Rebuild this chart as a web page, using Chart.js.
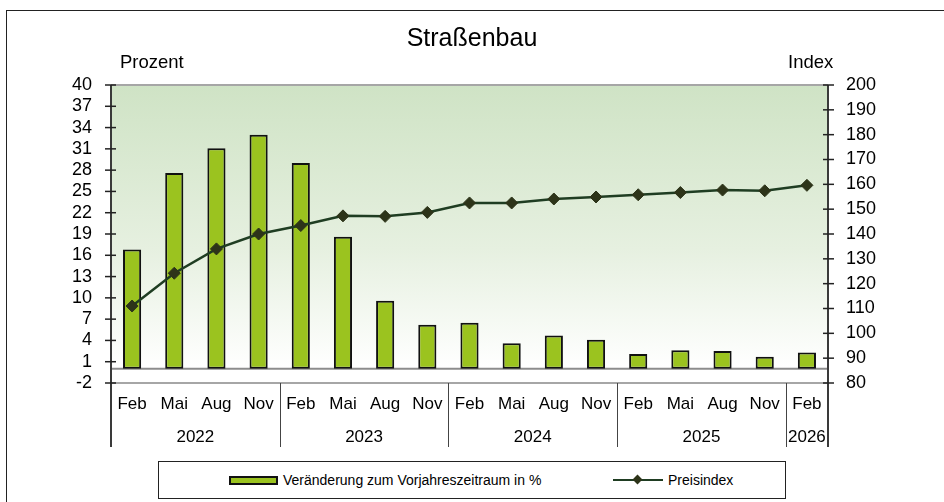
<!DOCTYPE html>
<html lang="de">
<head>
  <meta charset="UTF-8" />
  <title>Straßenbau</title>
  <script src="https://cdn.jsdelivr.net/npm/chart.js"></script>
  <style>
    body {
      margin: 0;
      padding: 0;
      background: #fff;
      font-family: 'Liberation Sans', Arial, sans-serif;
      color: #000;
      overflow: hidden;
    }
    .rahmen {
      position: absolute;
      left: 6px;
      top: 10px;
      width: 1000px;
      height: 600px;
      border: 1.5px solid #222;
    }
    #grafik {
      position: absolute;
      left: 0;
      top: 0;
    }
    .titel {
      position: absolute;
      left: 0;
      width: 944px;
      top: 23px;
      text-align: center;
      font-size: 25px;
    }
    .achse {
      position: absolute;
      top: 51px;
      font-size: 18.5px;
    }
    .legende {
      position: absolute;
      left: 158px;
      top: 461px;
      width: 626px;
      height: 36px;
      border: 1px solid #222;
      background: #fff;
      font-size: 14px;
    }
    .legende span { position: absolute; top: 10px; white-space: nowrap; }
    .swatch-bar {
      position: absolute;
      left: 70px;
      top: 14px;
      width: 45px;
      height: 5px;
      background: #9bc31f;
      border: 2px solid #111;
    }
    .swatch-linie {
      position: absolute;
      left: 454px;
      top: 17px;
      width: 50px;
      height: 2px;
      background: #1f3d22;
    }
    .swatch-linie::after {
      content: '';
      position: absolute;
      left: 21px;
      top: -3px;
      width: 7px;
      height: 7px;
      background: #2d3419;
      transform: rotate(45deg);
    }
  </style>
</head>
<body>
  <div class="rahmen"></div>
  <canvas id="grafik" width="944" height="502"></canvas>
  <div class="titel">Straßenbau</div>
  <div class="achse" style="left:120px">Prozent</div>
  <div class="achse" style="left:788px">Index</div>
  <div class="legende">
    <div class="swatch-bar"></div>
    <span style="left:124px">Veränderung zum Vorjahreszeitraum in %</span>
    <div class="swatch-linie"></div>
    <span style="left:509px">Preisindex</span>
  </div>

  <script>
    const monate = ["Feb", "Mai", "Aug", "Nov", "Feb", "Mai", "Aug", "Nov", "Feb", "Mai", "Aug", "Nov", "Feb", "Mai", "Aug", "Nov", "Feb"];
    const jahre = ["2022", "2022", "2022", "2022", "2023", "2023", "2023", "2023", "2024", "2024", "2024", "2024", "2025", "2025", "2025", "2025", "2026"];
    const veraenderung = [16.8, 27.6, 31.1, 33.0, 29.0, 18.6, 9.6, 6.2, 6.5, 3.6, 4.7, 4.1, 2.1, 2.6, 2.5, 1.7, 2.3];
    const preisindex = [111.0, 124.2, 134.0, 140.0, 143.4, 147.3, 147.1, 148.7, 152.5, 152.5, 154.1, 154.9, 155.8, 156.7, 157.7, 157.4, 159.6];

    const unterkante = 447;

    const hintergrund = {
      id: 'hintergrund',
      beforeDatasetsDraw(chart) {
        const { ctx, chartArea: a, scales } = chart;
        ctx.save();
        const g = ctx.createLinearGradient(0, a.top, 0, a.bottom);
        g.addColorStop(0, '#cfe3c5');
        g.addColorStop(0.55, '#e6f0e0');
        g.addColorStop(0.95, '#ffffff');
        ctx.fillStyle = g;
        ctx.fillRect(a.left, a.top, a.right - a.left, a.bottom - a.top);
        // obere Kante
        ctx.strokeStyle = '#a6a6a6';
        ctx.lineWidth = 2;
        ctx.beginPath();
        ctx.moveTo(a.left, a.top);
        ctx.lineTo(a.right, a.top);
        ctx.stroke();
        // Nulllinie
        const y0 = scales.y.getPixelForValue(0);
        ctx.strokeStyle = '#8c8c8c';
        ctx.beginPath();
        ctx.moveTo(a.left, y0);
        ctx.lineTo(a.right, y0);
        ctx.stroke();
        ctx.restore();
      },
      afterDraw(chart) {
        const { ctx, chartArea: a, scales } = chart;
        ctx.save();
        // untere Achse
        ctx.strokeStyle = '#a6a6a6';
        ctx.lineWidth = 2;
        ctx.beginPath();
        ctx.moveTo(a.left, a.bottom);
        ctx.lineTo(a.right, a.bottom);
        ctx.stroke();
        // senkrechte Achsen
        ctx.strokeStyle = '#3a3a3a';
        ctx.lineWidth = 2;
        [a.left, a.right].forEach(x => {
          ctx.beginPath();
          ctx.moveTo(x, a.top);
          ctx.lineTo(x, unterkante);
          ctx.stroke();
        });
        // Teilstriche
        ctx.lineWidth = 1.5;
        ctx.strokeStyle = '#222';
        scales.y.ticks.forEach(t => {
          const y = scales.y.getPixelForValue(t.value);
          ctx.beginPath();
          ctx.moveTo(a.left - 6, y);
          ctx.lineTo(a.left + 5, y);
          ctx.stroke();
        });
        scales.y2.ticks.forEach(t => {
          const y = scales.y2.getPixelForValue(t.value);
          ctx.beginPath();
          ctx.moveTo(a.right - 5, y);
          ctx.lineTo(a.right + 6, y);
          ctx.stroke();
        });
        // Jahresgruppen
        const x = scales.x;
        const halb = (x.getPixelForValue(1) - x.getPixelForValue(0)) / 2;
        ctx.strokeStyle = '#444';
        ctx.lineWidth = 1;
        ctx.fillStyle = '#000';
        ctx.font = '17px "Liberation Sans", Arial, sans-serif';
        ctx.textAlign = 'center';
        ctx.textBaseline = 'middle';
        let start = 0;
        for (let i = 1; i <= jahre.length; i++) {
          if (i === jahre.length || jahre[i] !== jahre[start]) {
            const links = x.getPixelForValue(start) - halb;
            const rechts = x.getPixelForValue(i - 1) + halb;
            if (i < jahre.length) {
              ctx.beginPath();
              ctx.moveTo(Math.round(rechts) + 0.5, a.bottom);
              ctx.lineTo(Math.round(rechts) + 0.5, unterkante);
              ctx.stroke();
            }
            ctx.fillText(jahre[start], (links + rechts) / 2, 437);
            start = i;
          }
        }
        ctx.restore();
      }
    };

    const ctx = document.getElementById('grafik').getContext('2d');

    new Chart(ctx, {
      data: {
        labels: monate,
        datasets: [{
          type: 'line',
          label: 'Preisindex',
          data: preisindex,
          yAxisID: 'y2',
          borderColor: '#1f3d22',
          borderWidth: 2.5,
          pointStyle: 'rectRot',
          pointRadius: 6,
          pointBackgroundColor: '#2d3419',
          pointBorderColor: '#2d3419',
          pointBorderWidth: 1,
          tension: 0,
          order: 1
        }, {
          type: 'bar',
          label: 'Veränderung zum Vorjahreszeitraum in %',
          data: veraenderung,
          yAxisID: 'y',
          backgroundColor: '#9bc31f',
          borderColor: '#111',
          borderWidth: 2,
          borderSkipped: false,
          categoryPercentage: 1,
          barPercentage: 0.43,
          order: 2
        }]
      },
      options: {
        responsive: false,
        animation: false,
        layout: { padding: { top: 85, left: 0, right: 0, bottom: 502 - unterkante } },
        plugins: {
          legend: { display: false },
          tooltip: { enabled: false }
        },
        scales: {
          x: {
            grid: { display: false, drawTicks: false },
            border: { display: false },
            ticks: {
              color: '#000',
              padding: 11,
              maxRotation: 0,
              autoSkip: false,
              font: { family: '"Liberation Sans", Arial, sans-serif', size: 17 }
            },
            afterFit(s) { s.height = unterkante - 383; }
          },
          y: {
            position: 'left',
            min: -2,
            max: 40,
            grid: { display: false, drawTicks: false },
            border: { display: false },
            ticks: {
              stepSize: 3,
              autoSkip: false,
              color: '#000',
              padding: 19,
              font: { family: '"Liberation Sans", Arial, sans-serif', size: 18 }
            },
            afterFit(s) { s.width = 111; }
          },
          y2: {
            position: 'right',
            min: 80,
            max: 200,
            grid: { display: false, drawTicks: false },
            border: { display: false },
            ticks: {
              stepSize: 10,
              autoSkip: false,
              color: '#000',
              padding: 18,
              font: { family: '"Liberation Sans", Arial, sans-serif', size: 18 }
            },
            afterFit(s) { s.width = 944 - 828; }
          }
        }
      },
      plugins: [hintergrund]
    });
  </script>
</body>
</html>
